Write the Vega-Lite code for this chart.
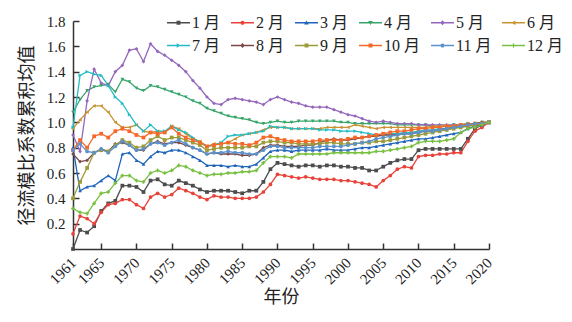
{
"$schema": "https://vega.github.io/schema/vega-lite/v6.json",
"width": 416, "height": 228,
"autosize": {"type": "none"},
"padding": {"left": 73, "top": 21, "right": 83, "bottom": 73},
"background": "white",
"config": {
  "font": "Liberation Serif",
  "view": {"stroke": null},
  "axis": {"labelFont": "Liberation Serif", "labelFontSize": 15, "labelColor": "#222", "titleFont": "Noto Sans CJK SC", "titleFontSize": 18, "titleFontWeight": "normal", "titleColor": "#222", "domainColor": "#333", "domainWidth": 1.5, "tickColor": "#333", "tickWidth": 1.5, "grid": false, "labelOverlap": false},
  "legend": {"orient": "none", "legendX": 94, "legendY": -10, "direction": "horizontal", "columns": 6, "title": null, "labelFont": "Liberation Serif, Noto Sans CJK SC", "labelFontSize": 16, "labelColor": "#222", "symbolSize": 529, "symbolStrokeWidth": 0, "labelOffset": 2, "columnPadding": 10, "rowPadding": 3}
},
"datasets": {"d": [
{"m":1,"yr":1961,"v":0.00},{"m":1,"yr":1962,"v":0.15},{"m":1,"yr":1963,"v":0.13},{"m":1,"yr":1964,"v":0.18},{"m":1,"yr":1965,"v":0.30},{"m":1,"yr":1966,"v":0.36},{"m":1,"yr":1967,"v":0.38},{"m":1,"yr":1968,"v":0.50},{"m":1,"yr":1969,"v":0.50},{"m":1,"yr":1970,"v":0.49},
{"m":1,"yr":1971,"v":0.45},{"m":1,"yr":1972,"v":0.54},{"m":1,"yr":1973,"v":0.55},{"m":1,"yr":1974,"v":0.51},{"m":1,"yr":1975,"v":0.50},{"m":1,"yr":1976,"v":0.54},{"m":1,"yr":1977,"v":0.52},{"m":1,"yr":1978,"v":0.50},{"m":1,"yr":1979,"v":0.47},{"m":1,"yr":1980,"v":0.45},
{"m":1,"yr":1981,"v":0.46},{"m":1,"yr":1982,"v":0.46},{"m":1,"yr":1983,"v":0.46},{"m":1,"yr":1984,"v":0.45},{"m":1,"yr":1985,"v":0.44},{"m":1,"yr":1986,"v":0.46},{"m":1,"yr":1987,"v":0.46},{"m":1,"yr":1988,"v":0.53},{"m":1,"yr":1989,"v":0.63},{"m":1,"yr":1990,"v":0.68},
{"m":1,"yr":1991,"v":0.67},{"m":1,"yr":1992,"v":0.66},{"m":1,"yr":1993,"v":0.65},{"m":1,"yr":1994,"v":0.66},{"m":1,"yr":1995,"v":0.66},{"m":1,"yr":1996,"v":0.65},{"m":1,"yr":1997,"v":0.66},{"m":1,"yr":1998,"v":0.66},{"m":1,"yr":1999,"v":0.65},{"m":1,"yr":2000,"v":0.65},
{"m":1,"yr":2001,"v":0.64},{"m":1,"yr":2002,"v":0.64},{"m":1,"yr":2003,"v":0.62},{"m":1,"yr":2004,"v":0.62},{"m":1,"yr":2005,"v":0.65},{"m":1,"yr":2006,"v":0.68},{"m":1,"yr":2007,"v":0.70},{"m":1,"yr":2008,"v":0.71},{"m":1,"yr":2009,"v":0.71},{"m":1,"yr":2010,"v":0.78},
{"m":1,"yr":2011,"v":0.79},{"m":1,"yr":2012,"v":0.79},{"m":1,"yr":2013,"v":0.79},{"m":1,"yr":2014,"v":0.79},{"m":1,"yr":2015,"v":0.79},{"m":1,"yr":2016,"v":0.79},{"m":1,"yr":2017,"v":0.87},{"m":1,"yr":2018,"v":0.95},{"m":1,"yr":2019,"v":0.98},{"m":1,"yr":2020,"v":1.00},
{"m":2,"yr":1961,"v":0.12},{"m":2,"yr":1962,"v":0.26},{"m":2,"yr":1963,"v":0.24},{"m":2,"yr":1964,"v":0.20},{"m":2,"yr":1965,"v":0.29},{"m":2,"yr":1966,"v":0.35},{"m":2,"yr":1967,"v":0.36},{"m":2,"yr":1968,"v":0.39},{"m":2,"yr":1969,"v":0.39},{"m":2,"yr":1970,"v":0.35},
{"m":2,"yr":1971,"v":0.32},{"m":2,"yr":1972,"v":0.41},{"m":2,"yr":1973,"v":0.44},{"m":2,"yr":1974,"v":0.41},{"m":2,"yr":1975,"v":0.43},{"m":2,"yr":1976,"v":0.48},{"m":2,"yr":1977,"v":0.46},{"m":2,"yr":1978,"v":0.44},{"m":2,"yr":1979,"v":0.41},{"m":2,"yr":1980,"v":0.39},
{"m":2,"yr":1981,"v":0.42},{"m":2,"yr":1982,"v":0.41},{"m":2,"yr":1983,"v":0.41},{"m":2,"yr":1984,"v":0.40},{"m":2,"yr":1985,"v":0.40},{"m":2,"yr":1986,"v":0.40},{"m":2,"yr":1987,"v":0.41},{"m":2,"yr":1988,"v":0.45},{"m":2,"yr":1989,"v":0.51},{"m":2,"yr":1990,"v":0.59},
{"m":2,"yr":1991,"v":0.58},{"m":2,"yr":1992,"v":0.57},{"m":2,"yr":1993,"v":0.56},{"m":2,"yr":1994,"v":0.57},{"m":2,"yr":1995,"v":0.56},{"m":2,"yr":1996,"v":0.55},{"m":2,"yr":1997,"v":0.55},{"m":2,"yr":1998,"v":0.55},{"m":2,"yr":1999,"v":0.54},{"m":2,"yr":2000,"v":0.54},
{"m":2,"yr":2001,"v":0.53},{"m":2,"yr":2002,"v":0.52},{"m":2,"yr":2003,"v":0.51},{"m":2,"yr":2004,"v":0.49},{"m":2,"yr":2005,"v":0.54},{"m":2,"yr":2006,"v":0.58},{"m":2,"yr":2007,"v":0.63},{"m":2,"yr":2008,"v":0.65},{"m":2,"yr":2009,"v":0.64},{"m":2,"yr":2010,"v":0.73},
{"m":2,"yr":2011,"v":0.74},{"m":2,"yr":2012,"v":0.74},{"m":2,"yr":2013,"v":0.75},{"m":2,"yr":2014,"v":0.75},{"m":2,"yr":2015,"v":0.76},{"m":2,"yr":2016,"v":0.76},{"m":2,"yr":2017,"v":0.85},{"m":2,"yr":2018,"v":0.93},{"m":2,"yr":2019,"v":0.96},{"m":2,"yr":2020,"v":1.00},
{"m":3,"yr":1961,"v":0.80},{"m":3,"yr":1962,"v":0.46},{"m":3,"yr":1963,"v":0.49},{"m":3,"yr":1964,"v":0.50},{"m":3,"yr":1965,"v":0.54},{"m":3,"yr":1966,"v":0.58},{"m":3,"yr":1967,"v":0.54},{"m":3,"yr":1968,"v":0.75},{"m":3,"yr":1969,"v":0.76},{"m":3,"yr":1970,"v":0.70},
{"m":3,"yr":1971,"v":0.67},{"m":3,"yr":1972,"v":0.73},{"m":3,"yr":1973,"v":0.77},{"m":3,"yr":1974,"v":0.76},{"m":3,"yr":1975,"v":0.78},{"m":3,"yr":1976,"v":0.78},{"m":3,"yr":1977,"v":0.76},{"m":3,"yr":1978,"v":0.73},{"m":3,"yr":1979,"v":0.70},{"m":3,"yr":1980,"v":0.66},
{"m":3,"yr":1981,"v":0.66},{"m":3,"yr":1982,"v":0.66},{"m":3,"yr":1983,"v":0.65},{"m":3,"yr":1984,"v":0.66},{"m":3,"yr":1985,"v":0.65},{"m":3,"yr":1986,"v":0.65},{"m":3,"yr":1987,"v":0.67},{"m":3,"yr":1988,"v":0.72},{"m":3,"yr":1989,"v":0.77},{"m":3,"yr":1990,"v":0.78},
{"m":3,"yr":1991,"v":0.78},{"m":3,"yr":1992,"v":0.77},{"m":3,"yr":1993,"v":0.78},{"m":3,"yr":1994,"v":0.78},{"m":3,"yr":1995,"v":0.78},{"m":3,"yr":1996,"v":0.78},{"m":3,"yr":1997,"v":0.79},{"m":3,"yr":1998,"v":0.78},{"m":3,"yr":1999,"v":0.78},{"m":3,"yr":2000,"v":0.78},
{"m":3,"yr":2001,"v":0.79},{"m":3,"yr":2002,"v":0.80},{"m":3,"yr":2003,"v":0.80},{"m":3,"yr":2004,"v":0.81},{"m":3,"yr":2005,"v":0.82},{"m":3,"yr":2006,"v":0.83},{"m":3,"yr":2007,"v":0.84},{"m":3,"yr":2008,"v":0.85},{"m":3,"yr":2009,"v":0.86},{"m":3,"yr":2010,"v":0.87},
{"m":3,"yr":2011,"v":0.87},{"m":3,"yr":2012,"v":0.88},{"m":3,"yr":2013,"v":0.89},{"m":3,"yr":2014,"v":0.90},{"m":3,"yr":2015,"v":0.91},{"m":3,"yr":2016,"v":0.92},{"m":3,"yr":2017,"v":0.95},{"m":3,"yr":2018,"v":0.97},{"m":3,"yr":2019,"v":0.98},{"m":3,"yr":2020,"v":1.00},
{"m":4,"yr":1961,"v":1.08},{"m":4,"yr":1962,"v":1.18},{"m":4,"yr":1963,"v":1.25},{"m":4,"yr":1964,"v":1.28},{"m":4,"yr":1965,"v":1.29},{"m":4,"yr":1966,"v":1.30},{"m":4,"yr":1967,"v":1.24},{"m":4,"yr":1968,"v":1.34},{"m":4,"yr":1969,"v":1.32},{"m":4,"yr":1970,"v":1.27},
{"m":4,"yr":1971,"v":1.25},{"m":4,"yr":1972,"v":1.29},{"m":4,"yr":1973,"v":1.28},{"m":4,"yr":1974,"v":1.26},{"m":4,"yr":1975,"v":1.24},{"m":4,"yr":1976,"v":1.22},{"m":4,"yr":1977,"v":1.20},{"m":4,"yr":1978,"v":1.17},{"m":4,"yr":1979,"v":1.15},{"m":4,"yr":1980,"v":1.11},
{"m":4,"yr":1981,"v":1.09},{"m":4,"yr":1982,"v":1.07},{"m":4,"yr":1983,"v":1.05},{"m":4,"yr":1984,"v":1.04},{"m":4,"yr":1985,"v":1.03},{"m":4,"yr":1986,"v":1.02},{"m":4,"yr":1987,"v":1.00},{"m":4,"yr":1988,"v":0.99},{"m":4,"yr":1989,"v":1.00},{"m":4,"yr":1990,"v":1.01},
{"m":4,"yr":1991,"v":1.00},{"m":4,"yr":1992,"v":1.00},{"m":4,"yr":1993,"v":1.01},{"m":4,"yr":1994,"v":1.01},{"m":4,"yr":1995,"v":1.01},{"m":4,"yr":1996,"v":1.01},{"m":4,"yr":1997,"v":1.01},{"m":4,"yr":1998,"v":1.01},{"m":4,"yr":1999,"v":1.00},{"m":4,"yr":2000,"v":1.00},
{"m":4,"yr":2001,"v":0.99},{"m":4,"yr":2002,"v":0.99},{"m":4,"yr":2003,"v":0.99},{"m":4,"yr":2004,"v":0.99},{"m":4,"yr":2005,"v":0.99},{"m":4,"yr":2006,"v":0.99},{"m":4,"yr":2007,"v":0.98},{"m":4,"yr":2008,"v":0.98},{"m":4,"yr":2009,"v":0.98},{"m":4,"yr":2010,"v":0.98},
{"m":4,"yr":2011,"v":0.98},{"m":4,"yr":2012,"v":0.97},{"m":4,"yr":2013,"v":0.97},{"m":4,"yr":2014,"v":0.97},{"m":4,"yr":2015,"v":0.98},{"m":4,"yr":2016,"v":0.98},{"m":4,"yr":2017,"v":0.99},{"m":4,"yr":2018,"v":0.99},{"m":4,"yr":2019,"v":1.00},{"m":4,"yr":2020,"v":1.00},
{"m":5,"yr":1961,"v":0.90},{"m":5,"yr":1962,"v":0.77},{"m":5,"yr":1963,"v":1.17},{"m":5,"yr":1964,"v":1.42},{"m":5,"yr":1965,"v":1.31},{"m":5,"yr":1966,"v":1.29},{"m":5,"yr":1967,"v":1.40},{"m":5,"yr":1968,"v":1.45},{"m":5,"yr":1969,"v":1.57},{"m":5,"yr":1970,"v":1.58},
{"m":5,"yr":1971,"v":1.48},{"m":5,"yr":1972,"v":1.62},{"m":5,"yr":1973,"v":1.56},{"m":5,"yr":1974,"v":1.53},{"m":5,"yr":1975,"v":1.49},{"m":5,"yr":1976,"v":1.45},{"m":5,"yr":1977,"v":1.40},{"m":5,"yr":1978,"v":1.33},{"m":5,"yr":1979,"v":1.27},{"m":5,"yr":1980,"v":1.20},
{"m":5,"yr":1981,"v":1.15},{"m":5,"yr":1982,"v":1.14},{"m":5,"yr":1983,"v":1.18},{"m":5,"yr":1984,"v":1.19},{"m":5,"yr":1985,"v":1.18},{"m":5,"yr":1986,"v":1.17},{"m":5,"yr":1987,"v":1.16},{"m":5,"yr":1988,"v":1.14},{"m":5,"yr":1989,"v":1.18},{"m":5,"yr":1990,"v":1.20},
{"m":5,"yr":1991,"v":1.18},{"m":5,"yr":1992,"v":1.16},{"m":5,"yr":1993,"v":1.15},{"m":5,"yr":1994,"v":1.13},{"m":5,"yr":1995,"v":1.12},{"m":5,"yr":1996,"v":1.12},{"m":5,"yr":1997,"v":1.12},{"m":5,"yr":1998,"v":1.10},{"m":5,"yr":1999,"v":1.08},{"m":5,"yr":2000,"v":1.06},
{"m":5,"yr":2001,"v":1.05},{"m":5,"yr":2002,"v":1.03},{"m":5,"yr":2003,"v":1.01},{"m":5,"yr":2004,"v":1.00},{"m":5,"yr":2005,"v":1.01},{"m":5,"yr":2006,"v":1.00},{"m":5,"yr":2007,"v":0.99},{"m":5,"yr":2008,"v":0.99},{"m":5,"yr":2009,"v":0.99},{"m":5,"yr":2010,"v":0.98},
{"m":5,"yr":2011,"v":0.98},{"m":5,"yr":2012,"v":0.98},{"m":5,"yr":2013,"v":0.98},{"m":5,"yr":2014,"v":0.98},{"m":5,"yr":2015,"v":0.98},{"m":5,"yr":2016,"v":0.98},{"m":5,"yr":2017,"v":0.99},{"m":5,"yr":2018,"v":0.99},{"m":5,"yr":2019,"v":0.99},{"m":5,"yr":2020,"v":1.00},
{"m":6,"yr":1961,"v":0.95},{"m":6,"yr":1962,"v":1.02},{"m":6,"yr":1963,"v":1.08},{"m":6,"yr":1964,"v":1.13},{"m":6,"yr":1965,"v":1.13},{"m":6,"yr":1966,"v":1.08},{"m":6,"yr":1967,"v":1.00},{"m":6,"yr":1968,"v":0.96},{"m":6,"yr":1969,"v":0.96},{"m":6,"yr":1970,"v":0.98},
{"m":6,"yr":1971,"v":0.93},{"m":6,"yr":1972,"v":0.92},{"m":6,"yr":1973,"v":0.93},{"m":6,"yr":1974,"v":0.92},{"m":6,"yr":1975,"v":0.97},{"m":6,"yr":1976,"v":0.95},{"m":6,"yr":1977,"v":0.91},{"m":6,"yr":1978,"v":0.87},{"m":6,"yr":1979,"v":0.85},{"m":6,"yr":1980,"v":0.81},
{"m":6,"yr":1981,"v":0.83},{"m":6,"yr":1982,"v":0.83},{"m":6,"yr":1983,"v":0.84},{"m":6,"yr":1984,"v":0.87},{"m":6,"yr":1985,"v":0.90},{"m":6,"yr":1986,"v":0.91},{"m":6,"yr":1987,"v":0.92},{"m":6,"yr":1988,"v":0.94},{"m":6,"yr":1989,"v":0.96},{"m":6,"yr":1990,"v":0.96},
{"m":6,"yr":1991,"v":0.96},{"m":6,"yr":1992,"v":0.95},{"m":6,"yr":1993,"v":0.95},{"m":6,"yr":1994,"v":0.95},{"m":6,"yr":1995,"v":0.95},{"m":6,"yr":1996,"v":0.95},{"m":6,"yr":1997,"v":0.96},{"m":6,"yr":1998,"v":0.96},{"m":6,"yr":1999,"v":0.96},{"m":6,"yr":2000,"v":0.96},
{"m":6,"yr":2001,"v":0.98},{"m":6,"yr":2002,"v":0.97},{"m":6,"yr":2003,"v":0.96},{"m":6,"yr":2004,"v":0.95},{"m":6,"yr":2005,"v":0.96},{"m":6,"yr":2006,"v":0.96},{"m":6,"yr":2007,"v":0.96},{"m":6,"yr":2008,"v":0.96},{"m":6,"yr":2009,"v":0.96},{"m":6,"yr":2010,"v":0.96},
{"m":6,"yr":2011,"v":0.96},{"m":6,"yr":2012,"v":0.97},{"m":6,"yr":2013,"v":0.97},{"m":6,"yr":2014,"v":0.97},{"m":6,"yr":2015,"v":0.97},{"m":6,"yr":2016,"v":0.98},{"m":6,"yr":2017,"v":0.99},{"m":6,"yr":2018,"v":0.99},{"m":6,"yr":2019,"v":1.00},{"m":6,"yr":2020,"v":1.00},
{"m":7,"yr":1961,"v":0.96},{"m":7,"yr":1962,"v":1.37},{"m":7,"yr":1963,"v":1.40},{"m":7,"yr":1964,"v":1.38},{"m":7,"yr":1965,"v":1.37},{"m":7,"yr":1966,"v":1.29},{"m":7,"yr":1967,"v":1.20},{"m":7,"yr":1968,"v":1.15},{"m":7,"yr":1969,"v":1.06},{"m":7,"yr":1970,"v":0.98},
{"m":7,"yr":1971,"v":0.93},{"m":7,"yr":1972,"v":0.98},{"m":7,"yr":1973,"v":0.93},{"m":7,"yr":1974,"v":0.93},{"m":7,"yr":1975,"v":0.97},{"m":7,"yr":1976,"v":0.94},{"m":7,"yr":1977,"v":0.92},{"m":7,"yr":1978,"v":0.88},{"m":7,"yr":1979,"v":0.84},{"m":7,"yr":1980,"v":0.81},
{"m":7,"yr":1981,"v":0.82},{"m":7,"yr":1982,"v":0.84},{"m":7,"yr":1983,"v":0.89},{"m":7,"yr":1984,"v":0.90},{"m":7,"yr":1985,"v":0.90},{"m":7,"yr":1986,"v":0.91},{"m":7,"yr":1987,"v":0.92},{"m":7,"yr":1988,"v":0.93},{"m":7,"yr":1989,"v":0.97},{"m":7,"yr":1990,"v":0.96},
{"m":7,"yr":1991,"v":0.96},{"m":7,"yr":1992,"v":0.95},{"m":7,"yr":1993,"v":0.95},{"m":7,"yr":1994,"v":0.95},{"m":7,"yr":1995,"v":0.95},{"m":7,"yr":1996,"v":0.94},{"m":7,"yr":1997,"v":0.94},{"m":7,"yr":1998,"v":0.94},{"m":7,"yr":1999,"v":0.93},{"m":7,"yr":2000,"v":0.93},
{"m":7,"yr":2001,"v":0.93},{"m":7,"yr":2002,"v":0.92},{"m":7,"yr":2003,"v":0.91},{"m":7,"yr":2004,"v":0.90},{"m":7,"yr":2005,"v":0.90},{"m":7,"yr":2006,"v":0.91},{"m":7,"yr":2007,"v":0.91},{"m":7,"yr":2008,"v":0.92},{"m":7,"yr":2009,"v":0.92},{"m":7,"yr":2010,"v":0.93},
{"m":7,"yr":2011,"v":0.94},{"m":7,"yr":2012,"v":0.94},{"m":7,"yr":2013,"v":0.95},{"m":7,"yr":2014,"v":0.95},{"m":7,"yr":2015,"v":0.96},{"m":7,"yr":2016,"v":0.96},{"m":7,"yr":2017,"v":0.97},{"m":7,"yr":2018,"v":0.98},{"m":7,"yr":2019,"v":0.99},{"m":7,"yr":2020,"v":1.00},
{"m":8,"yr":1961,"v":0.75},{"m":8,"yr":1962,"v":0.69},{"m":8,"yr":1963,"v":0.70},{"m":8,"yr":1964,"v":0.76},{"m":8,"yr":1965,"v":0.79},{"m":8,"yr":1966,"v":0.77},{"m":8,"yr":1967,"v":0.83},{"m":8,"yr":1968,"v":0.84},{"m":8,"yr":1969,"v":0.82},{"m":8,"yr":1970,"v":0.78},
{"m":8,"yr":1971,"v":0.78},{"m":8,"yr":1972,"v":0.83},{"m":8,"yr":1973,"v":0.85},{"m":8,"yr":1974,"v":0.83},{"m":8,"yr":1975,"v":0.84},{"m":8,"yr":1976,"v":0.84},{"m":8,"yr":1977,"v":0.82},{"m":8,"yr":1978,"v":0.80},{"m":8,"yr":1979,"v":0.78},{"m":8,"yr":1980,"v":0.75},
{"m":8,"yr":1981,"v":0.76},{"m":8,"yr":1982,"v":0.75},{"m":8,"yr":1983,"v":0.75},{"m":8,"yr":1984,"v":0.75},{"m":8,"yr":1985,"v":0.74},{"m":8,"yr":1986,"v":0.74},{"m":8,"yr":1987,"v":0.75},{"m":8,"yr":1988,"v":0.80},{"m":8,"yr":1989,"v":0.82},{"m":8,"yr":1990,"v":0.82},
{"m":8,"yr":1991,"v":0.81},{"m":8,"yr":1992,"v":0.81},{"m":8,"yr":1993,"v":0.81},{"m":8,"yr":1994,"v":0.82},{"m":8,"yr":1995,"v":0.82},{"m":8,"yr":1996,"v":0.84},{"m":8,"yr":1997,"v":0.86},{"m":8,"yr":1998,"v":0.87},{"m":8,"yr":1999,"v":0.86},{"m":8,"yr":2000,"v":0.86},
{"m":8,"yr":2001,"v":0.87},{"m":8,"yr":2002,"v":0.88},{"m":8,"yr":2003,"v":0.89},{"m":8,"yr":2004,"v":0.89},{"m":8,"yr":2005,"v":0.90},{"m":8,"yr":2006,"v":0.90},{"m":8,"yr":2007,"v":0.90},{"m":8,"yr":2008,"v":0.91},{"m":8,"yr":2009,"v":0.91},{"m":8,"yr":2010,"v":0.92},
{"m":8,"yr":2011,"v":0.93},{"m":8,"yr":2012,"v":0.93},{"m":8,"yr":2013,"v":0.94},{"m":8,"yr":2014,"v":0.95},{"m":8,"yr":2015,"v":0.96},{"m":8,"yr":2016,"v":0.97},{"m":8,"yr":2017,"v":0.98},{"m":8,"yr":2018,"v":0.99},{"m":8,"yr":2019,"v":1.00},{"m":8,"yr":2020,"v":1.00},
{"m":9,"yr":1961,"v":0.40},{"m":9,"yr":1962,"v":0.53},{"m":9,"yr":1963,"v":0.64},{"m":9,"yr":1964,"v":0.76},{"m":9,"yr":1965,"v":0.78},{"m":9,"yr":1966,"v":0.77},{"m":9,"yr":1967,"v":0.82},{"m":9,"yr":1968,"v":0.86},{"m":9,"yr":1969,"v":0.84},{"m":9,"yr":1970,"v":0.80},
{"m":9,"yr":1971,"v":0.81},{"m":9,"yr":1972,"v":0.86},{"m":9,"yr":1973,"v":0.89},{"m":9,"yr":1974,"v":0.86},{"m":9,"yr":1975,"v":0.88},{"m":9,"yr":1976,"v":0.88},{"m":9,"yr":1977,"v":0.86},{"m":9,"yr":1978,"v":0.84},{"m":9,"yr":1979,"v":0.82},{"m":9,"yr":1980,"v":0.78},
{"m":9,"yr":1981,"v":0.79},{"m":9,"yr":1982,"v":0.80},{"m":9,"yr":1983,"v":0.80},{"m":9,"yr":1984,"v":0.80},{"m":9,"yr":1985,"v":0.80},{"m":9,"yr":1986,"v":0.81},{"m":9,"yr":1987,"v":0.81},{"m":9,"yr":1988,"v":0.84},{"m":9,"yr":1989,"v":0.85},{"m":9,"yr":1990,"v":0.85},
{"m":9,"yr":1991,"v":0.84},{"m":9,"yr":1992,"v":0.84},{"m":9,"yr":1993,"v":0.83},{"m":9,"yr":1994,"v":0.83},{"m":9,"yr":1995,"v":0.83},{"m":9,"yr":1996,"v":0.83},{"m":9,"yr":1997,"v":0.84},{"m":9,"yr":1998,"v":0.84},{"m":9,"yr":1999,"v":0.83},{"m":9,"yr":2000,"v":0.83},
{"m":9,"yr":2001,"v":0.83},{"m":9,"yr":2002,"v":0.84},{"m":9,"yr":2003,"v":0.84},{"m":9,"yr":2004,"v":0.85},{"m":9,"yr":2005,"v":0.85},{"m":9,"yr":2006,"v":0.86},{"m":9,"yr":2007,"v":0.87},{"m":9,"yr":2008,"v":0.88},{"m":9,"yr":2009,"v":0.89},{"m":9,"yr":2010,"v":0.90},
{"m":9,"yr":2011,"v":0.91},{"m":9,"yr":2012,"v":0.92},{"m":9,"yr":2013,"v":0.93},{"m":9,"yr":2014,"v":0.94},{"m":9,"yr":2015,"v":0.95},{"m":9,"yr":2016,"v":0.96},{"m":9,"yr":2017,"v":0.97},{"m":9,"yr":2018,"v":0.98},{"m":9,"yr":2019,"v":0.99},{"m":9,"yr":2020,"v":1.00},
{"m":10,"yr":1961,"v":0.78},{"m":10,"yr":1962,"v":0.86},{"m":10,"yr":1963,"v":0.80},{"m":10,"yr":1964,"v":0.89},{"m":10,"yr":1965,"v":0.91},{"m":10,"yr":1966,"v":0.88},{"m":10,"yr":1967,"v":0.93},{"m":10,"yr":1968,"v":0.95},{"m":10,"yr":1969,"v":0.93},{"m":10,"yr":1970,"v":0.90},
{"m":10,"yr":1971,"v":0.88},{"m":10,"yr":1972,"v":0.92},{"m":10,"yr":1973,"v":0.91},{"m":10,"yr":1974,"v":0.92},{"m":10,"yr":1975,"v":0.96},{"m":10,"yr":1976,"v":0.91},{"m":10,"yr":1977,"v":0.88},{"m":10,"yr":1978,"v":0.86},{"m":10,"yr":1979,"v":0.84},{"m":10,"yr":1980,"v":0.81},
{"m":10,"yr":1981,"v":0.82},{"m":10,"yr":1982,"v":0.83},{"m":10,"yr":1983,"v":0.84},{"m":10,"yr":1984,"v":0.83},{"m":10,"yr":1985,"v":0.83},{"m":10,"yr":1986,"v":0.82},{"m":10,"yr":1987,"v":0.84},{"m":10,"yr":1988,"v":0.88},{"m":10,"yr":1989,"v":0.89},{"m":10,"yr":1990,"v":0.87},
{"m":10,"yr":1991,"v":0.86},{"m":10,"yr":1992,"v":0.85},{"m":10,"yr":1993,"v":0.85},{"m":10,"yr":1994,"v":0.85},{"m":10,"yr":1995,"v":0.85},{"m":10,"yr":1996,"v":0.86},{"m":10,"yr":1997,"v":0.86},{"m":10,"yr":1998,"v":0.86},{"m":10,"yr":1999,"v":0.86},{"m":10,"yr":2000,"v":0.87},
{"m":10,"yr":2001,"v":0.88},{"m":10,"yr":2002,"v":0.88},{"m":10,"yr":2003,"v":0.89},{"m":10,"yr":2004,"v":0.90},{"m":10,"yr":2005,"v":0.91},{"m":10,"yr":2006,"v":0.92},{"m":10,"yr":2007,"v":0.93},{"m":10,"yr":2008,"v":0.93},{"m":10,"yr":2009,"v":0.94},{"m":10,"yr":2010,"v":0.95},
{"m":10,"yr":2011,"v":0.95},{"m":10,"yr":2012,"v":0.96},{"m":10,"yr":2013,"v":0.96},{"m":10,"yr":2014,"v":0.97},{"m":10,"yr":2015,"v":0.97},{"m":10,"yr":2016,"v":0.98},{"m":10,"yr":2017,"v":0.98},{"m":10,"yr":2018,"v":0.99},{"m":10,"yr":2019,"v":0.99},{"m":10,"yr":2020,"v":1.00},
{"m":11,"yr":1961,"v":0.78},{"m":11,"yr":1962,"v":0.83},{"m":11,"yr":1963,"v":0.77},{"m":11,"yr":1964,"v":0.76},{"m":11,"yr":1965,"v":0.79},{"m":11,"yr":1966,"v":0.76},{"m":11,"yr":1967,"v":0.81},{"m":11,"yr":1968,"v":0.85},{"m":11,"yr":1969,"v":0.82},{"m":11,"yr":1970,"v":0.78},
{"m":11,"yr":1971,"v":0.79},{"m":11,"yr":1972,"v":0.83},{"m":11,"yr":1973,"v":0.84},{"m":11,"yr":1974,"v":0.82},{"m":11,"yr":1975,"v":0.84},{"m":11,"yr":1976,"v":0.86},{"m":11,"yr":1977,"v":0.83},{"m":11,"yr":1978,"v":0.80},{"m":11,"yr":1979,"v":0.78},{"m":11,"yr":1980,"v":0.75},
{"m":11,"yr":1981,"v":0.76},{"m":11,"yr":1982,"v":0.76},{"m":11,"yr":1983,"v":0.77},{"m":11,"yr":1984,"v":0.76},{"m":11,"yr":1985,"v":0.76},{"m":11,"yr":1986,"v":0.75},{"m":11,"yr":1987,"v":0.75},{"m":11,"yr":1988,"v":0.78},{"m":11,"yr":1989,"v":0.81},{"m":11,"yr":1990,"v":0.81},
{"m":11,"yr":1991,"v":0.80},{"m":11,"yr":1992,"v":0.80},{"m":11,"yr":1993,"v":0.80},{"m":11,"yr":1994,"v":0.80},{"m":11,"yr":1995,"v":0.80},{"m":11,"yr":1996,"v":0.81},{"m":11,"yr":1997,"v":0.81},{"m":11,"yr":1998,"v":0.81},{"m":11,"yr":1999,"v":0.81},{"m":11,"yr":2000,"v":0.82},
{"m":11,"yr":2001,"v":0.83},{"m":11,"yr":2002,"v":0.84},{"m":11,"yr":2003,"v":0.85},{"m":11,"yr":2004,"v":0.87},{"m":11,"yr":2005,"v":0.88},{"m":11,"yr":2006,"v":0.89},{"m":11,"yr":2007,"v":0.90},{"m":11,"yr":2008,"v":0.91},{"m":11,"yr":2009,"v":0.91},{"m":11,"yr":2010,"v":0.92},
{"m":11,"yr":2011,"v":0.93},{"m":11,"yr":2012,"v":0.93},{"m":11,"yr":2013,"v":0.94},{"m":11,"yr":2014,"v":0.95},{"m":11,"yr":2015,"v":0.96},{"m":11,"yr":2016,"v":0.97},{"m":11,"yr":2017,"v":0.98},{"m":11,"yr":2018,"v":0.99},{"m":11,"yr":2019,"v":0.99},{"m":11,"yr":2020,"v":1.00},
{"m":12,"yr":1961,"v":0.32},{"m":12,"yr":1962,"v":0.29},{"m":12,"yr":1963,"v":0.28},{"m":12,"yr":1964,"v":0.36},{"m":12,"yr":1965,"v":0.44},{"m":12,"yr":1966,"v":0.45},{"m":12,"yr":1967,"v":0.52},{"m":12,"yr":1968,"v":0.58},{"m":12,"yr":1969,"v":0.58},{"m":12,"yr":1970,"v":0.54},
{"m":12,"yr":1971,"v":0.53},{"m":12,"yr":1972,"v":0.60},{"m":12,"yr":1973,"v":0.62},{"m":12,"yr":1974,"v":0.60},{"m":12,"yr":1975,"v":0.62},{"m":12,"yr":1976,"v":0.66},{"m":12,"yr":1977,"v":0.65},{"m":12,"yr":1978,"v":0.62},{"m":12,"yr":1979,"v":0.60},{"m":12,"yr":1980,"v":0.58},
{"m":12,"yr":1981,"v":0.59},{"m":12,"yr":1982,"v":0.59},{"m":12,"yr":1983,"v":0.60},{"m":12,"yr":1984,"v":0.60},{"m":12,"yr":1985,"v":0.61},{"m":12,"yr":1986,"v":0.61},{"m":12,"yr":1987,"v":0.62},{"m":12,"yr":1988,"v":0.68},{"m":12,"yr":1989,"v":0.73},{"m":12,"yr":1990,"v":0.73},
{"m":12,"yr":1991,"v":0.73},{"m":12,"yr":1992,"v":0.72},{"m":12,"yr":1993,"v":0.75},{"m":12,"yr":1994,"v":0.75},{"m":12,"yr":1995,"v":0.75},{"m":12,"yr":1996,"v":0.75},{"m":12,"yr":1997,"v":0.75},{"m":12,"yr":1998,"v":0.76},{"m":12,"yr":1999,"v":0.76},{"m":12,"yr":2000,"v":0.76},
{"m":12,"yr":2001,"v":0.76},{"m":12,"yr":2002,"v":0.76},{"m":12,"yr":2003,"v":0.76},{"m":12,"yr":2004,"v":0.77},{"m":12,"yr":2005,"v":0.77},{"m":12,"yr":2006,"v":0.78},{"m":12,"yr":2007,"v":0.79},{"m":12,"yr":2008,"v":0.80},{"m":12,"yr":2009,"v":0.81},{"m":12,"yr":2010,"v":0.84},
{"m":12,"yr":2011,"v":0.85},{"m":12,"yr":2012,"v":0.85},{"m":12,"yr":2013,"v":0.85},{"m":12,"yr":2014,"v":0.86},{"m":12,"yr":2015,"v":0.87},{"m":12,"yr":2016,"v":0.92},{"m":12,"yr":2017,"v":0.95},{"m":12,"yr":2018,"v":0.96},{"m":12,"yr":2019,"v":0.98},{"m":12,"yr":2020,"v":1.00}
]},
"data": {"name": "d"},
"layer": [
  {"mark": {"type": "line", "strokeWidth": 1.3},
   "encoding": {
     "x": {"field": "yr", "type": "quantitative", "scale": {"domain": [1961, 2020], "nice": false, "zero": false}, "axis": {"title": "年份", "values": [1961,1965,1970,1975,1980,1985,1990,1995,2000,2005,2010,2015,2020], "format": "d", "labelAngle": 315, "labelAlign": "right", "labelBaseline": "middle", "labelOverlap": false, "tickSize": -6, "labelPadding": 17, "labelDx": 3, "titlePadding": 2}},
     "y": {"field": "v", "type": "quantitative", "scale": {"domain": [0, 1.8], "nice": false}, "axis": {"title": "径流模比系数累积均值", "values": [0.2,0.4,0.6,0.8,1.0,1.2,1.4,1.6,1.8], "format": ".1f", "labelOverlap": false, "tickSize": -6, "labelPadding": 14, "titlePadding": 10}},
     "color": {"field": "m", "type": "nominal", "legend": null, "scale": {"domain": [1,2,3,4,5,6,7,8,9,10,11,12], "range": ["#4d4d4d","#e8433b","#2065bb","#38a56a","#9467bd","#c89232","#23bcc6","#7a4848","#9c9c3a","#f4692a","#5b92cc","#78c040"]}}}},
  {"mark": {"type": "point", "filled": true, "size": 14, "opacity": 1},
   "encoding": {
     "x": {"field": "yr", "type": "quantitative", "scale": {"domain": [1961, 2020], "nice": false, "zero": false}, "axis": null},
     "y": {"field": "v", "type": "quantitative", "scale": {"domain": [0, 1.8], "nice": false}, "axis": null},
     "color": {"field": "m", "type": "nominal", "legend": null, "scale": {"domain": [1,2,3,4,5,6,7,8,9,10,11,12], "range": ["#4d4d4d","#e8433b","#2065bb","#38a56a","#9467bd","#c89232","#23bcc6","#7a4848","#9c9c3a","#f4692a","#5b92cc","#78c040"]}},
     "shape": {"field": "m", "type": "nominal", "legend": null, "scale": {"domain": [1,2,3,4,5,6,7,8,9,10,11,12], "range": ["square","circle","triangle-up","triangle-down","diamond","triangle-left","triangle-right","diamond","square","square","circle","cross"]}}}},
  {"transform": [{"filter": "datum.yr < 0"}],
   "mark": {"type": "point", "filled": true, "opacity": 1},
   "encoding": {
     "x": {"field": "yr", "type": "quantitative", "scale": {"domain": [1961, 2020], "nice": false, "zero": false}, "axis": null},
     "y": {"field": "v", "type": "quantitative", "scale": {"domain": [0, 1.8], "nice": false}, "axis": null},
     "color": {"field": "m", "type": "nominal", "legend": {"labelExpr": "datum.label + ' 月'"}, "scale": {"domain": [1,2,3,4,5,6,7,8,9,10,11,12], "range": ["#4d4d4d","#e8433b","#2065bb","#38a56a","#9467bd","#c89232","#23bcc6","#7a4848","#9c9c3a","#f4692a","#5b92cc","#78c040"]}},
     "shape": {"field": "m", "type": "nominal", "legend": {"labelExpr": "datum.label + ' 月'"}, "scale": {"domain": [1,2,3,4,5,6,7,8,9,10,11,12], "range": [
       "M-1,-0.06H1V0.06H-1Z M-0.17,-0.17H0.17V0.17H-0.17Z",
       "M-1,-0.06H1V0.06H-1Z M-0.18,0A0.18,0.18 0 1,1 0.18,0A0.18,0.18 0 1,1 -0.18,0Z",
       "M-1,-0.06H1V0.06H-1Z M0,-0.2L0.2,0.16H-0.2Z",
       "M-1,-0.06H1V0.06H-1Z M0,0.2L-0.2,-0.16H0.2Z",
       "M-1,-0.06H1V0.06H-1Z M0,-0.22L0.2,0L0,0.22L-0.2,0Z",
       "M-1,-0.06H1V0.06H-1Z M-0.2,0L0.16,-0.2V0.2Z",
       "M-1,-0.06H1V0.06H-1Z M0.2,0L-0.16,0.2V-0.2Z",
       "M-1,-0.06H1V0.06H-1Z M0,-0.22L0.2,0L0,0.22L-0.2,0Z",
       "M-1,-0.06H1V0.06H-1Z M-0.17,-0.17H0.17V0.17H-0.17Z",
       "M-1,-0.06H1V0.06H-1Z M-0.17,-0.17H0.17V0.17H-0.17Z",
       "M-1,-0.06H1V0.06H-1Z M-0.18,0A0.18,0.18 0 1,1 0.18,0A0.18,0.18 0 1,1 -0.18,0Z",
       "M-1,-0.06H1V0.06H-1Z M-0.2,-0.05H-0.05V-0.2H0.05V-0.05H0.2V0.05H0.05V0.2H-0.05V0.05H-0.2Z"]}}}}
],
"resolve": {"scale": {"color": "independent", "shape": "independent"}, "axis": {"x": "independent", "y": "independent"}}
}
